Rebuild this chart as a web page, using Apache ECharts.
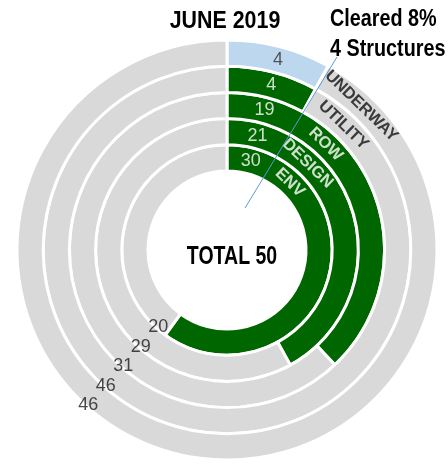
<!DOCTYPE html>
<html>
<head>
<meta charset="utf-8">
<script src="https://cdn.jsdelivr.net/npm/echarts@6/dist/echarts.min.js"></script>
<style>
  html, body { margin: 0; padding: 0; background: #fff; }
  #chart { width: 448px; height: 468px; }
</style>
</head>
<body>
<div id="chart"></div>
<script>
// rings from inside out
const rings = ['ENV', 'DESIGN', 'ROW', 'UTILITY', 'UNDERWAY'];
const cleared = [30, 21, 19, 4, 4];
const remaining = [20, 29, 31, 46, 46];
const total = 50;
const titleText = 'JUNE 2019';
const structuresCleared = 4;

const FONT = "'Liberation Sans', Arial, sans-serif";
const GREEN = '#006600';
const BLUE = '#bdd7ee';
const GRAY = '#d9d9d9';

// angles (axis units, 0..total) where the label sets sit
const toAxis = (deg) => deg / 360 * total;
const VALUE_ANGLE = toAxis(15);
const NAME_ANGLE = toAxis(43);
const REST_ANGLE = toAxis(222);

const chart = echarts.init(document.getElementById('chart'));

const pct = Math.round(structuresCleared / total * 100);

const option = {
  animation: false,
  polar: { center: [227, 250], radius: [79, 210] },
  angleAxis: { type: 'value', min: 0, max: total, startAngle: 90, clockwise: true, show: false },
  radiusAxis: { type: 'category', data: rings, show: false },
  series: [
    {
      type: 'bar',
      coordinateSystem: 'polar',
      stack: 'ring',
      barCategoryGap: '0%',
      itemStyle: { borderColor: '#fff', borderWidth: 3 },
      data: cleared.map((v, i) => ({
        value: v,
        itemStyle: { color: rings[i] === 'UNDERWAY' ? BLUE : GREEN }
      }))
    },
    {
      type: 'bar',
      coordinateSystem: 'polar',
      stack: 'ring',
      barCategoryGap: '0%',
      itemStyle: { color: GRAY, borderColor: '#fff', borderWidth: 3 },
      data: remaining
    },
    // cleared counts
    {
      type: 'scatter',
      coordinateSystem: 'polar',
      symbolSize: 0,
      silent: true,
      data: rings.map((r, i) => ({
        value: [r, VALUE_ANGLE],
        name: String(cleared[i]),
        label: { color: r === 'UNDERWAY' ? '#333' : '#fff' }
      })),
      label: {
        show: true,
        position: 'inside',
        formatter: '{b}',
        fontFamily: FONT,
        fontSize: 18
      }
    },
    // ring names
    {
      type: 'scatter',
      coordinateSystem: 'polar',
      symbolSize: 0,
      silent: true,
      data: rings.map((r, i) => ({
        value: [r, NAME_ANGLE],
        name: r,
        label: { color: i < 3 ? '#fff' : '#111' }
      })),
      label: {
        show: true,
        position: 'inside',
        formatter: '{b}',
        rotate: -44,
        fontFamily: FONT,
        fontWeight: 'bold',
        fontSize: 16.5
      }
    },
    // remaining counts
    {
      type: 'scatter',
      coordinateSystem: 'polar',
      symbolSize: 0,
      silent: true,
      data: rings.map((r, i) => ({ value: [r, REST_ANGLE], name: String(remaining[i]) })),
      label: {
        show: true,
        position: 'inside',
        formatter: '{b}',
        offset: [-7, 9],
        fontFamily: FONT,
        fontSize: 18,
        color: '#1a1a1a'
      }
    }
  ],
  graphic: [
    {
      type: 'text', x: 225, y: 22, z: 10, scaleX: 0.93,
      style: { text: titleText, font: 'bold 23px ' + FONT, fill: '#000', align: 'center', verticalAlign: 'middle' }
    },
    {
      type: 'text', x: 232, y: 257, z: 10, scaleX: 0.78,
      style: { text: 'TOTAL ' + total, font: 'bold 25px ' + FONT, fill: '#000', align: 'center', verticalAlign: 'middle' }
    },
    {
      type: 'text', x: 330, y: 35, z: 10, scaleX: 0.86,
      style: {
        text: 'Cleared ' + pct + '%\n' + structuresCleared + ' Structures',
        font: 'bold 23px ' + FONT, lineHeight: 30, fill: '#000', align: 'left', verticalAlign: 'middle'
      }
    },
    {
      type: 'line', z: 10,
      shape: { x1: 245, y1: 208, x2: 337, y2: 57 },
      style: { stroke: '#5b9bd5', lineWidth: 1 }
    }
  ]
};

chart.setOption(option);
</script>
</body>
</html>
